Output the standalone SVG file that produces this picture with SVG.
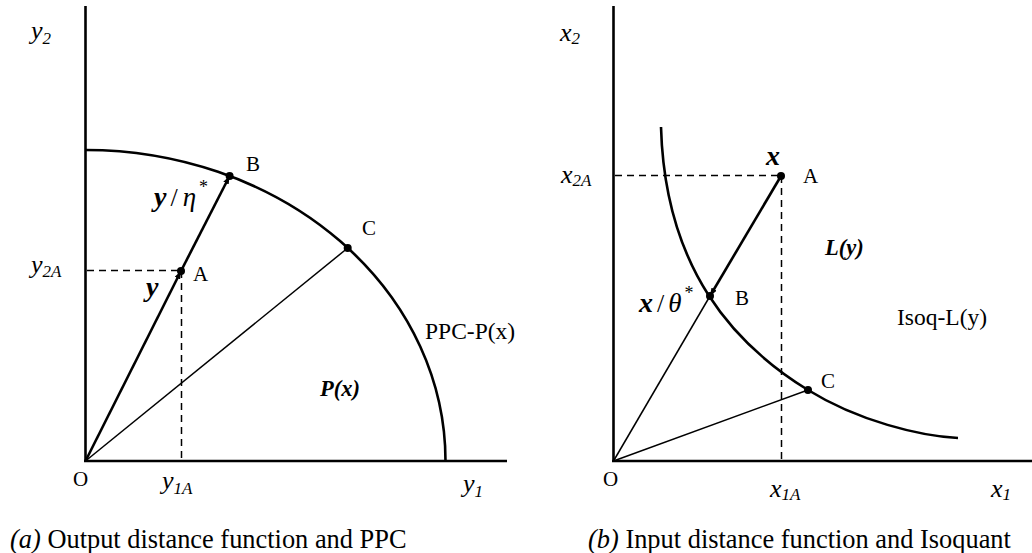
<svg xmlns="http://www.w3.org/2000/svg" width="1032" height="553" viewBox="0 0 1032 553">
<style>
  .ax{stroke:#000;stroke-width:2.6;fill:none}
  .thick{stroke:#000;stroke-width:2.6;fill:none}
  .thin{stroke:#000;stroke-width:1.5;fill:none}
  .dash{stroke:#000;stroke-width:1.5;fill:none;stroke-dasharray:7,5}
  text{font-family:"Liberation Serif","Times New Roman",serif;fill:#000}
  .pt{font-size:21px}
  .it{font-size:26px;font-style:italic}
  .sub{font-size:17px;font-style:italic}
  .bi{font-size:28px;font-style:italic;font-weight:bold}
  .gr{font-size:27px;font-style:italic}
  .sl{font-size:26px}
  .st{font-size:18px}
  .bil{font-size:22.5px;font-style:italic;font-weight:bold}
  .lbl{font-size:23.5px}
  .cap{font-size:26.4px}
</style>
<defs>
  <marker id="arr" viewBox="0 0 8 6" refX="8" refY="3" markerWidth="8" markerHeight="6" markerUnits="userSpaceOnUse" orient="auto">
    <path d="M0,0 L8,3 L0,6 z" fill="#000"/>
  </marker>
</defs>

<!-- Panel (a) -->
<g id="panel-a">
  <g id="a-axes">
    <line class="ax" x1="85.5" y1="6" x2="85.5" y2="461"/>
    <line class="ax" x1="84" y1="461" x2="507" y2="461"/>
  </g>
  <path id="a-ppc" class="thick" d="M85.5,150 A360,311 0 0 1 445.5,461"/>
  <g id="a-connectors">
    <line class="dash" x1="87" y1="270.5" x2="181" y2="270.5"/>
    <line class="dash" x1="181.5" y1="271" x2="181.5" y2="460"/>
    <line class="thick" x1="85.5" y1="461" x2="181" y2="271" marker-end="url(#arr)"/>
    <line class="thick" x1="181" y1="271" x2="229.6" y2="176" marker-end="url(#arr)"/>
    <line class="thin" x1="85.5" y1="461" x2="347.7" y2="248"/>
  </g>
  <g id="a-A"><circle cx="181" cy="271" r="4"/><text class="pt" x="193" y="281">A</text></g>
  <g id="a-B"><circle cx="229.6" cy="176" r="4"/><text class="pt" x="246" y="171">B</text></g>
  <g id="a-C"><circle cx="347.7" cy="248" r="4"/><text class="pt" x="362" y="235">C</text></g>
  <g id="a-labels">
    <text class="it" x="31" y="39">y<tspan class="sub" dy="5">2</tspan></text>
    <text class="it" x="31" y="273">y<tspan class="sub" dy="4">2A</tspan></text>
    <text class="it" x="162" y="489">y<tspan class="sub" dy="5">1A</tspan></text>
    <text class="it" x="463" y="492">y<tspan class="sub" dy="5">1</tspan></text>
    <text class="pt" x="73" y="486">O</text>
    <text x="154" y="206"><tspan class="bi">y</tspan><tspan class="sl" dx="4">/</tspan><tspan class="gr" dx="5">η</tspan><tspan class="st" dx="3" dy="-13">*</tspan></text>
    <text class="bi" x="146" y="296">y</text>
    <text class="bil" x="320" y="396">P(x)</text>
    <text class="lbl" x="425" y="339">PPC-P(x)</text>
  </g>
  <text id="cap-a" class="cap" x="10" y="548"><tspan font-style="italic">(a)</tspan> Output distance function and PPC</text>
</g>

<!-- Panel (b) -->
<g id="panel-b">
  <g id="b-axes">
    <line class="ax" x1="613.5" y1="6" x2="613.5" y2="461"/>
    <line class="ax" x1="612" y1="461" x2="1032" y2="461"/>
  </g>
  <path id="b-isoq" class="thick" d="M661,127 C665,270 735,345 808,390 C858,421 920,436 958,438"/>
  <g id="b-connectors">
    <line class="dash" x1="615" y1="175.5" x2="781" y2="175.5"/>
    <line class="dash" x1="781.5" y1="176" x2="781.5" y2="460"/>
    <line class="thick" x1="781" y1="176" x2="710" y2="296" marker-end="url(#arr)"/>
    <line class="thin" x1="613.5" y1="461" x2="710" y2="296"/>
    <line class="thin" x1="613.5" y1="461" x2="808" y2="390"/>
  </g>
  <g id="b-A"><circle cx="781" cy="176" r="4"/><text class="pt" x="803" y="183">A</text></g>
  <g id="b-B"><circle cx="710" cy="296" r="4"/><text class="pt" x="735" y="305">B</text></g>
  <g id="b-C"><circle cx="808" cy="390" r="4"/><text class="pt" x="821" y="388">C</text></g>
  <g id="b-labels">
    <text class="it" x="560" y="41">x<tspan class="sub" dy="3">2</tspan></text>
    <text class="it" x="561" y="183">x<tspan class="sub" dy="3">2A</tspan></text>
    <text class="it" x="770" y="497">x<tspan class="sub" dy="3">1A</tspan></text>
    <text class="it" x="991" y="497">x<tspan class="sub" dy="3">1</tspan></text>
    <text class="pt" x="603" y="486">O</text>
    <text class="bi" x="766" y="165">x</text>
    <text x="639" y="312"><tspan class="bi">x</tspan><tspan class="sl" dx="4">/</tspan><tspan class="gr" dx="4">θ</tspan><tspan class="st" dx="3" dy="-13">*</tspan></text>
    <text class="bil" x="825" y="255">L(y)</text>
    <text class="lbl" x="897" y="325">Isoq-L(y)</text>
  </g>
  <text id="cap-b" class="cap" x="588" y="548"><tspan font-style="italic">(b)</tspan> Input distance function and Isoquant</text>
</g>
</svg>
